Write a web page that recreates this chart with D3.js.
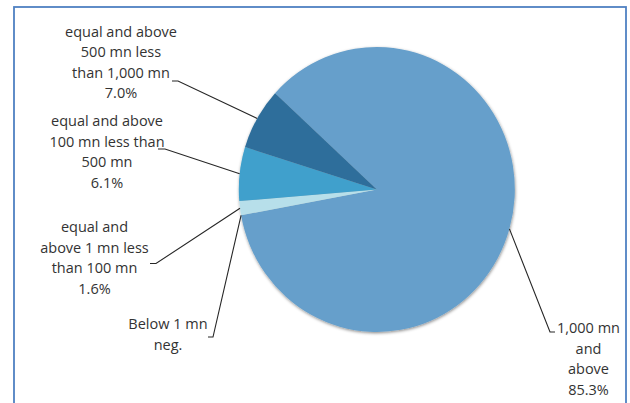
<!DOCTYPE html>
<html>
<head>
<meta charset="utf-8">
<script src="https://cdn.jsdelivr.net/npm/d3@7"></script>
<style>
  html, body { margin: 0; padding: 0; background: #fff; }
  svg { display: block; }
  text { font-family: "Open Sans", Lato, sans-serif; font-size: 14.5px; fill: #333; }
</style>
</head>
<body>
<svg id="chart" width="630" height="403"></svg>
<script>
// Share of value by size band (%)
const categories = [
  "1,000 mn and above",
  "Below 1 mn",
  "equal and above 1 mn less than 100 mn",
  "equal and above 100 mn less than 500 mn",
  "equal and above 500 mn less than 1,000 mn"
];
const shares = [85.3, 0, 1.6, 6.1, 7.0];
const valueLabels = ["85.3%", "neg.", "1.6%", "6.1%", "7.0%"];
const labelLines = [
  ["1,000 mn", "and", "above", "85.3%"],
  ["Below 1 mn", "neg."],
  ["equal and", "above 1 mn less", "than 100 mn", "1.6%"],
  ["equal and above", "100 mn less than", "500 mn", "6.1%"],
  ["equal and above", "500 mn less", "than 1,000 mn", "7.0%"]
];
const colors = ["#669fcb", "#b7dfea", "#b7dfea", "#3fa0cc", "#2e6e9b"];

const svg = d3.select("#chart");

// frame
svg.append("rect")
  .attr("x", 14).attr("y", 7)
  .attr("width", 612).attr("height", 420)
  .attr("fill", "none")
  .attr("stroke", "#4f81c2")
  .attr("stroke-width", 1.8);

const defs = svg.append("defs");
const f = defs.append("filter").attr("id", "soft")
  .attr("x", "-10%").attr("y", "-10%").attr("width", "120%").attr("height", "120%");
f.append("feDropShadow")
  .attr("dx", 0.5).attr("dy", 1.2)
  .attr("stdDeviation", 1.6)
  .attr("flood-color", "#000").attr("flood-opacity", 0.45);

const cx = 376.8, cy = 189.5, R = 142.5, sx = 138 / 142.5;
const start = -47.5 * Math.PI / 180;

const pie = d3.pie().sort(null).value(d => d)
  .startAngle(start).endAngle(start + 2 * Math.PI);
const arcs = pie(shares);
const arc = d3.arc().innerRadius(0).outerRadius(R);

const g = svg.append("g")
  .attr("transform", `translate(${cx},${cy}) scale(${sx},1)`);

g.append("g").attr("filter", "url(#soft)")
  .selectAll("path")
  .data(arcs)
  .join("path")
  .attr("d", arc)
  .attr("fill", (d, i) => colors[i]);

// point on the rim at a slice's middle angle, in page coordinates
function rim(a) {
  const m = (a.startAngle + a.endAngle) / 2;
  return [cx + Math.sin(m) * R * sx, cy - Math.cos(m) * R];
}

// label placement: text centre x, first line centre y, elbow and tail of leader
const layout = [
  { x: 588.5, y: 328, elbow: [550, 332], tail: [555, 332] },
  { x: 168,   y: 324, elbow: [213, 337], tail: [208, 337] },
  { x: 94.5,  y: 227, elbow: [156, 263.5], tail: [150, 263.5] },
  { x: 107,   y: 121, elbow: [165, 149], tail: [158, 149] },
  { x: 121,   y: 31.5, elbow: [178, 81], tail: [172, 81] }
];
const lineH = 20.6;

const lbl = svg.append("g");
arcs.forEach((a, i) => {
  const L = layout[i];
  const p = rim(a);
  lbl.append("path")
    .attr("d", d3.line()([p, L.elbow, L.tail]))
    .attr("fill", "none")
    .attr("stroke", "#262626")
    .attr("stroke-width", 1.1);
  const t = lbl.append("text")
    .attr("text-anchor", "middle");
  labelLines[i].forEach((s, k) => {
    t.append("tspan")
      .attr("x", L.x)
      .attr("y", L.y + k * lineH)
      .attr("dy", "0.35em")
      .text(s);
  });
});
</script>
</body>
</html>
